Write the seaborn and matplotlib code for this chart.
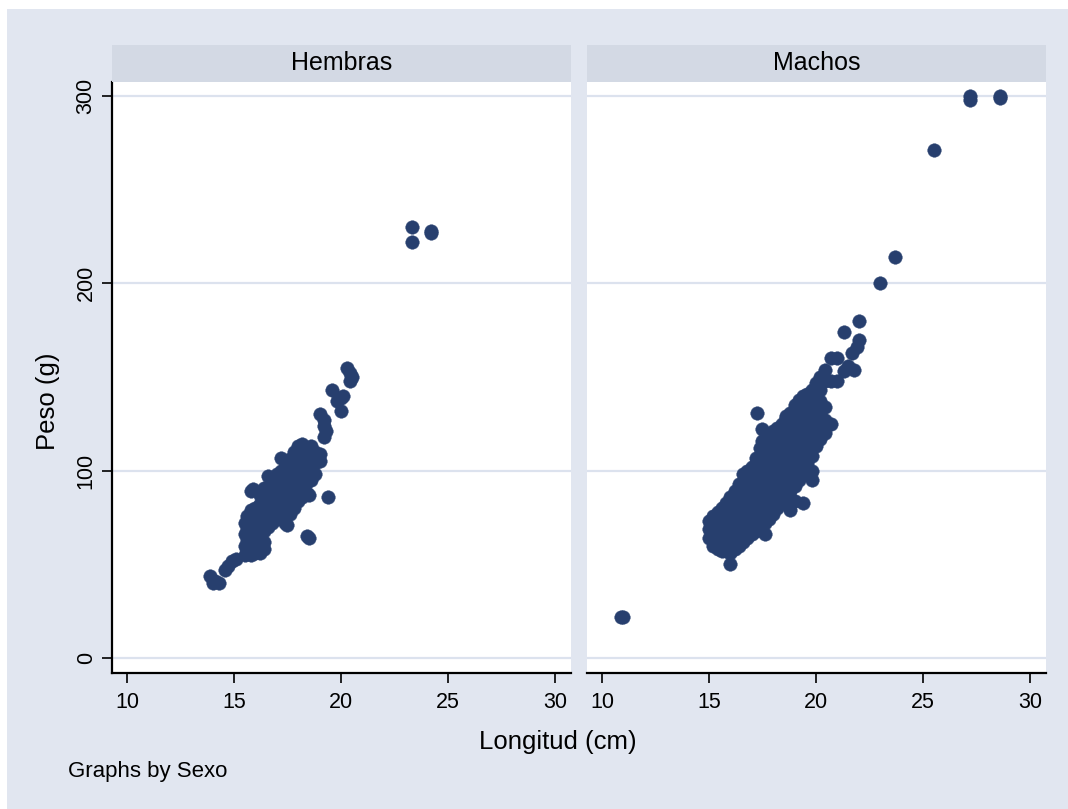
import matplotlib
matplotlib.use("Agg")
import matplotlib.pyplot as plt
import seaborn as sns
import pandas as pd
from matplotlib.patches import Rectangle

# ---------------- data ----------------
panels = ["Hembras", "Machos"]

hembras_x = [13.9, 14.0, 14.1, 14.3, 14.6, 14.7, 14.9, 15.1,
             15.5, 15.5, 15.5, 15.5,
             15.6, 15.6, 15.6, 15.6,
             15.8, 15.8, 15.8, 15.8, 15.8, 15.8, 15.9,
             16.0, 16.0, 16.0, 16.0, 16.0,
             16.2, 16.2, 16.2, 16.2, 16.2, 16.2,
             16.4, 16.4, 16.4, 16.4, 16.4, 16.4, 16.4,
             16.6, 16.6, 16.6, 16.6, 16.6,
             16.8, 16.8, 16.8, 16.8, 16.8,
             17.0, 17.0, 17.0, 17.0, 17.0,
             17.2, 17.2, 17.2, 17.2, 17.2, 17.2,
             17.4, 17.4, 17.4, 17.4, 17.4, 17.4, 17.5,
             17.6, 17.6, 17.6, 17.6, 17.6, 17.6,
             17.8, 17.8, 17.8, 17.8, 17.8, 17.8,
             18.0, 18.0, 18.0, 18.0, 18.0, 18.0,
             18.2, 18.2, 18.2, 18.2, 18.2, 18.2,
             18.4, 18.4, 18.4, 18.4, 18.4, 18.4,
             18.5, 18.5,
             18.6, 18.6, 18.6, 18.6,
             18.8, 18.8, 18.8,
             19.0, 19.0, 19.0,
             19.2, 19.2, 19.2,
             19.3, 19.4,
             19.6, 19.8, 20.0, 20.0, 20.1,
             20.3, 20.4, 20.4, 20.5,
             23.3, 23.3, 24.2, 24.2]
hembras_y = [44, 40, 41, 40, 47, 49, 52, 53,
             55, 60, 66, 72,
             57, 63, 69, 76,
             55, 61, 67, 73, 79, 89, 90,
             56, 62, 68, 74, 80,
             56, 64, 70, 76, 82, 87,
             58, 62, 68, 74, 80, 86, 91,
             70, 76, 82, 88, 97,
             72, 78, 84, 90, 95,
             74, 80, 86, 92, 98,
             76, 82, 88, 94, 100, 107,
             72, 78, 84, 90, 96, 102, 71,
             77, 83, 89, 95, 101, 106,
             80, 86, 92, 98, 104, 110,
             84, 90, 96, 102, 108, 113,
             86, 92, 98, 104, 110, 114,
             65, 88, 94, 100, 106, 112,
             64, 87,
             95, 101, 107, 113,
             98, 104, 110,
             105, 109, 130,
             118, 124, 127,
             121, 86,
             143, 137, 132, 139, 140,
             155, 148, 152, 150,
             230, 222, 227, 228]

machos_x = [10.9, 11.0,
            15.0, 15.0, 15.0,
            15.2, 15.2, 15.2, 15.2,
            15.4, 15.4, 15.4, 15.4, 15.4,
            15.6, 15.6, 15.6, 15.6, 15.6,
            15.8, 15.8, 15.8, 15.8, 15.8, 15.8,
            16.0, 16.0, 16.0, 16.0, 16.0, 16.0, 16.0,
            16.2, 16.2, 16.2, 16.2, 16.2, 16.2,
            16.4, 16.4, 16.4, 16.4, 16.4, 16.4, 16.4,
            16.6, 16.6, 16.6, 16.6, 16.6, 16.6, 16.6,
            16.8, 16.8, 16.8, 16.8, 16.8, 16.8, 16.8,
            17.0, 17.0, 17.0, 17.0, 17.0, 17.0, 17.0,
            17.2, 17.2, 17.2, 17.2, 17.2, 17.2, 17.2, 17.2, 17.25,
            17.4, 17.4, 17.4, 17.4, 17.4, 17.4, 17.4, 17.4, 17.5, 17.5,
            17.6, 17.6, 17.6, 17.6, 17.6, 17.6, 17.6, 17.6, 17.6, 17.6,
            17.8, 17.8, 17.8, 17.8, 17.8, 17.8, 17.8, 17.8, 17.8,
            18.0, 18.0, 18.0, 18.0, 18.0, 18.0, 18.0, 18.0, 18.0,
            18.2, 18.2, 18.2, 18.2, 18.2, 18.2, 18.2, 18.2, 18.2,
            18.4, 18.4, 18.4, 18.4, 18.4, 18.4, 18.4, 18.4,
            18.6, 18.6, 18.6, 18.6, 18.6, 18.6, 18.6, 18.6, 18.6,
            18.8, 18.8, 18.8, 18.8, 18.8, 18.8, 18.8, 18.8, 18.8, 18.8,
            19.0, 19.0, 19.0, 19.0, 19.0, 19.0, 19.0, 19.0, 19.0,
            19.2, 19.2, 19.2, 19.2, 19.2, 19.2, 19.2, 19.2,
            19.4, 19.4, 19.4, 19.4, 19.4, 19.4, 19.4, 19.4, 19.4,
            19.6, 19.6, 19.6, 19.6, 19.6, 19.6, 19.6,
            19.8, 19.8, 19.8, 19.8, 19.8, 19.8, 19.8, 19.8, 19.8,
            20.0, 20.0, 20.0, 20.0, 20.0, 20.0, 20.0,
            20.2, 20.2, 20.2, 20.2, 20.2, 20.2,
            20.4, 20.4, 20.4, 20.4, 20.4,
            20.7, 20.7, 20.7, 21.0, 21.0,
            21.3, 21.3, 21.5, 21.7, 21.8, 21.9, 22.0, 22.0,
            23.0, 23.7, 25.5, 27.2, 27.2, 28.6, 28.6]
machos_y = [22, 22,
            64, 69, 73,
            60, 66, 71, 76,
            58, 64, 70, 75, 78,
            57, 62, 68, 74, 80,
            57, 63, 69, 75, 79, 83,
            50, 56, 62, 68, 74, 80, 86,
            58, 64, 70, 76, 82, 89,
            60, 66, 72, 78, 84, 90, 93,
            62, 68, 74, 80, 86, 92, 98,
            64, 70, 76, 82, 88, 94, 100,
            66, 72, 78, 84, 90, 96, 102,
            68, 74, 80, 86, 92, 98, 104, 107, 131,
            70, 76, 82, 88, 94, 100, 106, 112, 116, 122,
            66, 72, 78, 84, 90, 96, 102, 108, 114, 117,
            74, 80, 86, 92, 98, 104, 110, 116, 119,
            77, 83, 89, 95, 101, 107, 113, 118, 121,
            80, 86, 92, 98, 104, 110, 116, 120, 123,
            83, 89, 95, 101, 107, 113, 119, 125,
            86, 92, 98, 104, 110, 116, 122, 128, 129,
            79, 84, 89, 95, 101, 107, 113, 119, 125, 131,
            84, 92, 98, 104, 110, 116, 122, 128, 135,
            95, 101, 107, 113, 119, 125, 131, 138,
            83, 99, 105, 111, 117, 123, 129, 135, 140,
            104, 110, 116, 122, 128, 134, 141,
            95, 100, 108, 114, 120, 126, 132, 138, 143,
            113, 119, 125, 131, 136, 141, 147,
            117, 123, 130, 137, 143, 150,
            120, 127, 134, 148, 154,
            125, 148, 160, 148, 160,
            153, 174, 156, 163, 154, 166, 170, 180,
            200, 214, 271, 298, 300, 299, 300]

x_ticks = [10, 15, 20, 25, 30]
y_ticks = [0, 100, 200, 300]
x_label = "Longitud (cm)"
y_label = "Peso (g)"
note = "Graphs by Sexo"

# ---------------- style ----------------
BG = "#E1E6F0"
STRIP = "#D3D9E4"
GRID = "#DCE2EE"
MARK = "#273F6E"

sns.set_theme(style="white")
plt.rcParams["font.family"] = ["Liberation Sans", "DejaVu Sans"]
plt.rcParams["text.color"] = "black"
plt.rcParams["xtick.color"] = "black"
plt.rcParams["ytick.color"] = "black"
plt.rcParams["axes.labelcolor"] = "black"

df = pd.DataFrame({
    "Longitud": hembras_x + machos_x,
    "Peso": hembras_y + machos_y,
    "Sexo": [panels[0]] * len(hembras_x) + [panels[1]] * len(machos_x),
})

W, H = 1068, 809
fig = plt.figure(figsize=(W / 100, H / 100), dpi=100)
fig.patch.set_facecolor("white")
fig.patches.append(Rectangle((7 / W, 0), 1, 1 - 9 / H, transform=fig.transFigure,
                             facecolor=BG, edgecolor="none", zorder=-10))

def fx(px):
    return px / W

def fy(py):
    return 1 - py / H

panel_left = [112, 587]
pw = 459
top, bottom, strip_top = 82, 673, 45
TICK_FS = 15.5

for i, name in enumerate(panels):
    l = panel_left[i]
    ax = fig.add_axes([fx(l), fy(bottom), pw / W, (bottom - top) / H])
    ax.set_facecolor("white")
    sub = df[df["Sexo"] == name]
    for yv in y_ticks:
        ax.axhline(yv, color=GRID, lw=1.6, zorder=0)
    sns.scatterplot(data=sub, x="Longitud", y="Peso", ax=ax, color=MARK,
                    s=95, edgecolor=MARK, linewidth=0.3, zorder=3, legend=False)
    ax.set_xlim(9.3, 30.75)
    ax.set_ylim(-8.0, 307.5)
    ax.set_xticks(x_ticks)
    ax.set_xticklabels([str(t) for t in x_ticks], fontsize=TICK_FS, color="black")
    ax.set_xlabel("")
    ax.set_ylabel("")
    ax.tick_params(axis="x", direction="out", length=7, width=1.2, color="black",
                   labelcolor="black", pad=7, bottom=True)
    for s in ["top", "right"]:
        ax.spines[s].set_visible(False)
    ax.spines["bottom"].set_color("black")
    ax.spines["bottom"].set_linewidth(1.6)
    if i == 0:
        ax.set_yticks(y_ticks)
        ax.set_yticklabels([str(t) for t in y_ticks], fontsize=TICK_FS, rotation=90,
                           va="center", color="black")
        ax.tick_params(axis="y", direction="out", length=7, width=1.2, color="black",
                       labelcolor="black", pad=4, left=True)
        ax.spines["left"].set_color("black")
        ax.spines["left"].set_linewidth(1.6)
    else:
        ax.set_yticks(y_ticks)
        ax.set_yticklabels([])
        ax.tick_params(axis="y", length=0, left=False)
        ax.spines["left"].set_visible(False)
    # header strip
    sax = fig.add_axes([fx(l), fy(top), pw / W, (top - strip_top) / H])
    sax.set_facecolor(STRIP)
    sax.set_xticks([])
    sax.set_yticks([])
    for s in sax.spines.values():
        s.set_visible(False)
    sax.text(0.5, 0.5, name, ha="center", va="center", fontsize=18,
             color="black", transform=sax.transAxes)

fig.text(fx(48), fy(401), y_label, rotation=90, ha="center", va="center",
         fontsize=18.5, color="black")
fig.text(fx(558), fy(742), x_label, ha="center", va="center", fontsize=18.5, color="black")
fig.text(fx(68), fy(772), note, ha="left", va="center", fontsize=16, color="black")

fig.savefig("out.png", dpi=100, facecolor=fig.get_facecolor())
